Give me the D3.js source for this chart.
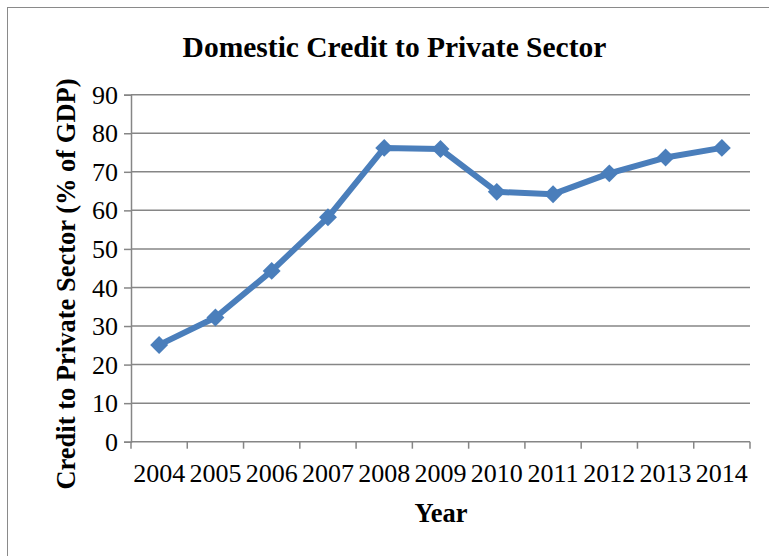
<!DOCTYPE html>
<html>
<head>
<meta charset="utf-8">
<script src="https://cdn.jsdelivr.net/npm/d3@7"></script>
<style>
  html, body { margin: 0; padding: 0; background: #fff; }
  svg { display: block; }
  text { font-family: "Liberation Serif", "Times New Roman", serif; fill: #000; }
</style>
</head>
<body>
<svg id="chart" width="769" height="556"></svg>
<script>
// Domestic credit to private sector, % of GDP
const years = ["2004", "2005", "2006", "2007", "2008", "2009", "2010", "2011", "2012", "2013", "2014"];
const creditPct = [25.1, 32.2, 44.3, 58.2, 76.2, 75.9, 64.8, 64.2, 69.6, 73.7, 76.2];
const yTicks = [0, 10, 20, 30, 40, 50, 60, 70, 80, 90];

const chartTitle = "Domestic Credit to Private Sector";
const xTitle = "Year";
const yTitle = "Credit to Private Sector (% of GDP)";

const svg = d3.select("#chart");
const W = 769, H = 556;
const plot = { left: 131, right: 750, top: 94.7, bottom: 441.7 };

svg.append("rect").attr("width", W).attr("height", H).attr("fill", "#fff");

// outer chart frame
svg.append("rect")
  .attr("x", 7.5).attr("y", 7.5)
  .attr("width", W + 20).attr("height", H + 20)
  .attr("fill", "none").attr("stroke", "#8a8a8a").attr("stroke-width", 1);

const x = d3.scaleBand().domain(years).range([plot.left, plot.right]).paddingInner(0).paddingOuter(0);
const y = d3.scaleLinear().domain([0, 90]).range([plot.bottom, plot.top]);

const gridColor = "#868686";

// horizontal gridlines
svg.append("g")
  .selectAll("line")
  .data(yTicks.filter(d => d > 0))
  .join("line")
  .attr("x1", plot.left).attr("x2", plot.right)
  .attr("y1", d => y(d)).attr("y2", d => y(d))
  .attr("stroke", gridColor).attr("stroke-width", 1.5);

// y axis
const yAxis = svg.append("g")
  .attr("transform", `translate(${plot.left},0)`)
  .call(d3.axisLeft(y).tickValues(yTicks).tickSize(7).tickPadding(6).tickFormat(d3.format("d")));
yAxis.select(".domain").attr("stroke", gridColor).attr("stroke-width", 1.5);
yAxis.selectAll(".tick line").attr("stroke", gridColor).attr("stroke-width", 1.5);
yAxis.selectAll(".tick text").attr("font-size", 26).attr("fill", "#000").attr("dy", "0.33em");

// x axis with ticks between categories
const xAxisG = svg.append("g").attr("transform", `translate(0,${plot.bottom})`);
xAxisG.append("line")
  .attr("x1", plot.left).attr("x2", plot.right)
  .attr("stroke", gridColor).attr("stroke-width", 1.5);
const boundaries = years.map(d => x(d)).concat([x(years[years.length - 1]) + x.bandwidth()]);
xAxisG.selectAll("line.tick")
  .data(boundaries)
  .join("line")
  .attr("class", "tick")
  .attr("x1", d => d).attr("x2", d => d)
  .attr("y1", 0).attr("y2", 7)
  .attr("stroke", gridColor).attr("stroke-width", 1.5);
xAxisG.selectAll("text")
  .data(years)
  .join("text")
  .attr("x", d => x(d) + x.bandwidth() / 2)
  .attr("y", 40.5)
  .attr("text-anchor", "middle")
  .attr("font-size", 26)
  .text(d => d);

// series line
const cx = (d, i) => x(years[i]) + x.bandwidth() / 2;
const lineColor = "#4a7ebb";
svg.append("path")
  .datum(creditPct)
  .attr("fill", "none")
  .attr("stroke", lineColor)
  .attr("stroke-width", 6)
  .attr("stroke-linejoin", "round")
  .attr("d", d3.line().x(cx).y(d => y(d)));

// diamond markers
const diamond = d3.symbol().type(d3.symbolDiamond2).size(205);
svg.append("g")
  .selectAll("path")
  .data(creditPct)
  .join("path")
  .attr("transform", (d, i) => `translate(${cx(d, i)},${y(d)})`)
  .attr("d", diamond)
  .attr("fill", lineColor);

// titles
svg.append("text")
  .attr("x", 394.5).attr("y", 57)
  .attr("text-anchor", "middle")
  .attr("font-size", 29.5).attr("font-weight", "bold")
  .text(chartTitle);

svg.append("text")
  .attr("x", 441).attr("y", 522)
  .attr("text-anchor", "middle")
  .attr("font-size", 26.5).attr("font-weight", "bold")
  .text(xTitle);

svg.append("text")
  .attr("transform", "translate(75,284) rotate(-90)")
  .attr("text-anchor", "middle")
  .attr("font-size", 26.5).attr("font-weight", "bold")
  .text(yTitle);
</script>
</body>
</html>
